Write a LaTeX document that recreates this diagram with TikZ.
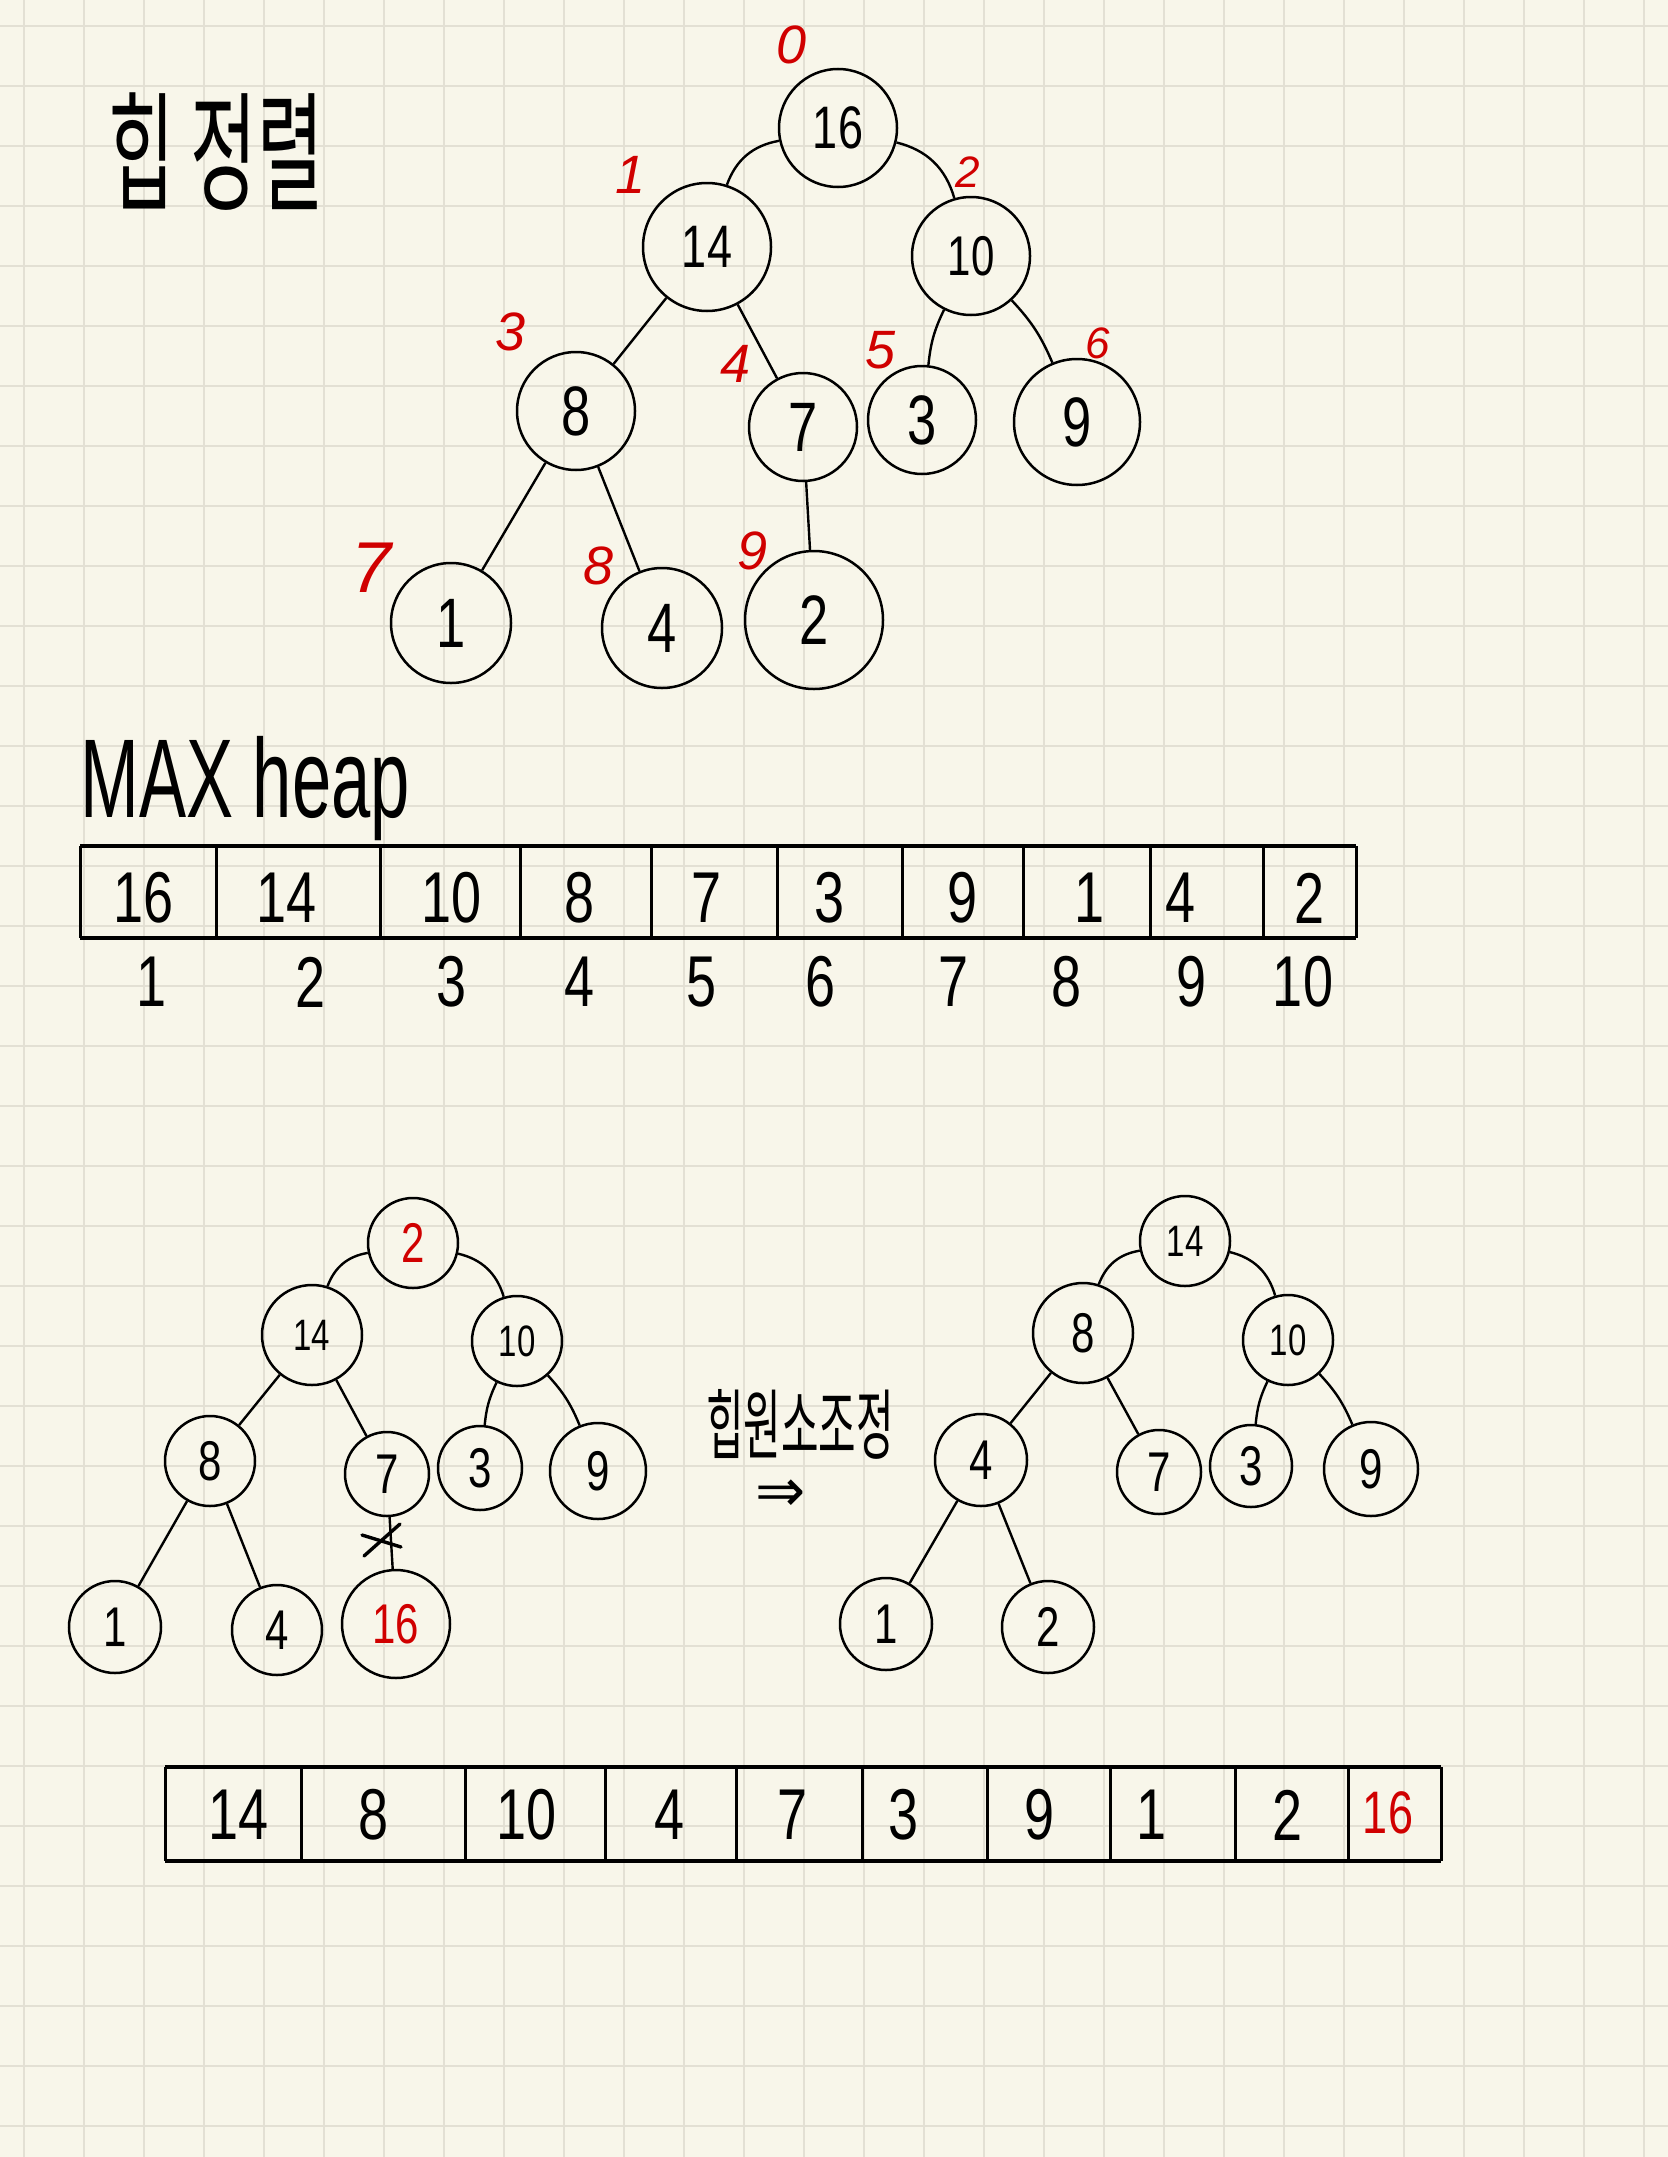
\documentclass[tikz,border=0pt]{standalone}
\usepackage{fontspec}
\setmainfont{Liberation Sans}
\newfontfamily\krfont{Noto Sans CJK KR}
\newfontfamily\symfont{DejaVu Sans}
\definecolor{paper}{HTML}{F8F6EA}
\definecolor{gridc}{HTML}{E3E0D4}
\definecolor{inkred}{HTML}{D00000}
\newcommand\nd[1]{\scalebox{0.75}[1]{#1}}
\begin{document}
\begin{tikzpicture}[x=0.5pt,y=-0.5pt,
  cnode/.style={circle,draw=black,line width=1.25pt,inner sep=0pt},
  fA/.style={font=\fontsize{35}{35}\selectfont},
  fB/.style={font=\fontsize{30}{30}\selectfont},
  fC/.style={font=\fontsize{28}{28}\selectfont},
  fD/.style={font=\fontsize{22}{22}\selectfont},
  edge/.style={line width=1.2pt},
  idx/.style={text=inkred,font=\fontsize{27}{27}\selectfont\itshape},
  arrtxt/.style={font=\fontsize{36}{36}\selectfont},
  arrtxtS/.style={font=\fontsize{30}{30}\selectfont},
  hline/.style={line width=2pt},
  vline/.style={line width=1.5pt}]
\fill[paper] (0,0) rectangle (1668,2157);
\useasboundingbox (0,0) rectangle (1668,2157);
\foreach \x in {24,84,...,1644} \draw[gridc,line width=1pt] (\x,0) -- (\x,2157);
\foreach \y in {26,86,...,2126} \draw[gridc,line width=1pt] (0,\y) -- (1668,\y);

% title
\node (title) at (216,152) {\scalebox{0.95}[1.7]{\krfont\fontsize{38}{38}\selectfont 힙 정렬}};

% top tree
\node[cnode,minimum size=59pt,fB] (t16) at (838,128) {\nd{16}};
\node[cnode,minimum size=64pt,fB] (t14) at (707,247) {\nd{14}};
\node[cnode,minimum size=59pt,fC] (t10) at (971,256) {\nd{10}};
\node[cnode,minimum size=59pt,fA] (t8) at (576,411) {\nd{8}};
\node[cnode,minimum size=54pt,fA] (t7) at (803,427) {\nd{7}};
\node[cnode,minimum size=54pt,fA] (t3) at (922,420) {\nd{3}};
\node[cnode,minimum size=63pt,fA] (t9) at (1077,422) {\nd{9}};
\node[cnode,minimum size=60pt,fA] (t1) at (451,623) {\nd{1}};
\node[cnode,minimum size=60pt,fA] (t4) at (662,628) {\nd{4}};
\node[cnode,minimum size=69pt,fA] (t2) at (814,620) {\nd{2}};
\draw[edge] (t16) to[bend right=30] (t14);
\draw[edge] (t16) to[bend left=30] (t10);
\draw[edge] (t14) -- (t8);
\draw[edge] (t14) -- (t7);
\draw[edge] (t10) to[bend right=10] (t3);
\draw[edge] (t10) to[bend left=10] (t9);
\draw[edge] (t8) -- (t1);
\draw[edge] (t8) -- (t4);
\draw[edge] (t7) -- (t2);

% red indices
\node[idx] (i0) at (792,45) {0};
\node[idx] (i1) at (631,175) {1};
\node[idx,font=\fontsize{22}{22}\selectfont\itshape] (i2) at (968,172) {2};
\node[idx] (i3) at (511,332) {3};
\node[idx] (i4) at (736,364) {4};
\node[idx] (i5) at (881,350) {5};
\node[idx,font=\fontsize{22}{22}\selectfont\itshape] (i6) at (1098,343) {6};
\node[idx,font=\fontsize{36}{36}\selectfont\itshape] (i7) at (372,568) {7};
\node[idx] (i8) at (599,566) {8};
\node[idx] (i9) at (753,551) {9};

% MAX heap
\node[anchor=base west,inner sep=0pt] (maxheap) at (80,817) {\scalebox{0.63}[1]{\fontsize{56}{56}\selectfont MAX heap}};

% array 1
\draw[hline] (80,846) -- (1356,846);
\draw[hline] (80,938) -- (1356,938);
\foreach \x in {80,216,380,520,651,777,902,1023,1150,1263,1356}
  \draw[vline] (\x,846) -- (\x,938);
\foreach \x/\v [count=\i] in {144/16,287/14,452/10,580/8,707/7,830/3,963/9,1090/1,1181/4,1309/2}
  \node[arrtxt] (a\i) at (\x,898) {\nd{\v}};
\foreach \x/\v [count=\i] in {152/1,311/2,452/3,580/4,702/5,821/6,954/7,1067/8,1191/9,1303/10}
  \node[arrtxt] (n\i) at (\x,982) {\nd{\v}};

% lower-left tree
\node[cnode,minimum size=45pt,fC,text=inkred] (l2) at (413,1243) {\nd{2}};
\node[cnode,minimum size=50pt,fD] (l14) at (312,1335) {\nd{14}};
\node[cnode,minimum size=45pt,fD] (l10) at (517,1341) {\nd{10}};
\node[cnode,minimum size=45pt,fC] (l8) at (210,1461) {\nd{8}};
\node[cnode,minimum size=42pt,fC] (l7) at (387,1474) {\nd{7}};
\node[cnode,minimum size=42pt,fC] (l3) at (480,1468) {\nd{3}};
\node[cnode,minimum size=48pt,fC] (l9) at (598,1471) {\nd{9}};
\node[cnode,minimum size=46pt,fC] (l1) at (115,1627) {\nd{1}};
\node[cnode,minimum size=45pt,fC] (l4) at (277,1630) {\nd{4}};
\node[cnode,minimum size=54pt,fC,text=inkred] (l16) at (396,1624) {\nd{16}};
\draw[edge] (l2) to[bend right=30] (l14);
\draw[edge] (l2) to[bend left=30] (l10);
\draw[edge] (l14) -- (l8);
\draw[edge] (l14) -- (l7);
\draw[edge] (l10) to[bend right=10] (l3);
\draw[edge] (l10) to[bend left=10] (l9);
\draw[edge] (l8) -- (l1);
\draw[edge] (l8) -- (l4);
\draw[edge] (l7) -- (l16);
\coordinate (xa1) at (364,1556);
\coordinate (xa2) at (400,1524);
\coordinate (xb1) at (362,1535);
\coordinate (xb2) at (401,1547);
\draw[line width=1.7pt,line cap=round] (xa1) -- (xa2);
\draw[line width=1.7pt,line cap=round] (xb1) -- (xb2);

% middle text and arrow
\node (adjust) at (800,1424) {\scalebox{0.85}[1.6]{\krfont\fontsize{24}{24}\selectfont 힙원소조정}};
\node (arrow) at (781,1496) {\symfont\fontsize{30}{30}\selectfont ⇒};

% right tree
\node[cnode,minimum size=45pt,fD] (r14) at (1185,1241) {\nd{14}};
\node[cnode,minimum size=50pt,fC] (r8) at (1083,1333) {\nd{8}};
\node[cnode,minimum size=45pt,fD] (r10) at (1288,1340) {\nd{10}};
\node[cnode,minimum size=46pt,fC] (r4) at (981,1460) {\nd{4}};
\node[cnode,minimum size=42pt,fC] (r7) at (1159,1472) {\nd{7}};
\node[cnode,minimum size=41pt,fC] (r3) at (1251,1466) {\nd{3}};
\node[cnode,minimum size=47pt,fC] (r9) at (1371,1469) {\nd{9}};
\node[cnode,minimum size=46pt,fC] (r1) at (886,1624) {\nd{1}};
\node[cnode,minimum size=46pt,fC] (r2) at (1048,1627) {\nd{2}};
\draw[edge] (r14) to[bend right=30] (r8);
\draw[edge] (r14) to[bend left=30] (r10);
\draw[edge] (r8) -- (r4);
\draw[edge] (r8) -- (r7);
\draw[edge] (r10) to[bend right=10] (r3);
\draw[edge] (r10) to[bend left=10] (r9);
\draw[edge] (r4) -- (r1);
\draw[edge] (r4) -- (r2);

% array 2
\draw[hline] (165,1767) -- (1441,1767);
\draw[hline] (165,1861) -- (1441,1861);
\foreach \x in {165,301,465,605,736,862,987,1110,1235,1348,1441}
  \draw[vline] (\x,1767) -- (\x,1861);
\foreach \x/\v [count=\i] in {239/14,374/8,527/10,670/4,793/7,904/3,1040/9,1152/1,1287/2}
  \node[arrtxt] (b\i) at (\x,1815) {\nd{\v}};
\node[arrtxtS,text=inkred] (b10) at (1388,1813) {\nd{16}};
\end{tikzpicture}
\end{document}
